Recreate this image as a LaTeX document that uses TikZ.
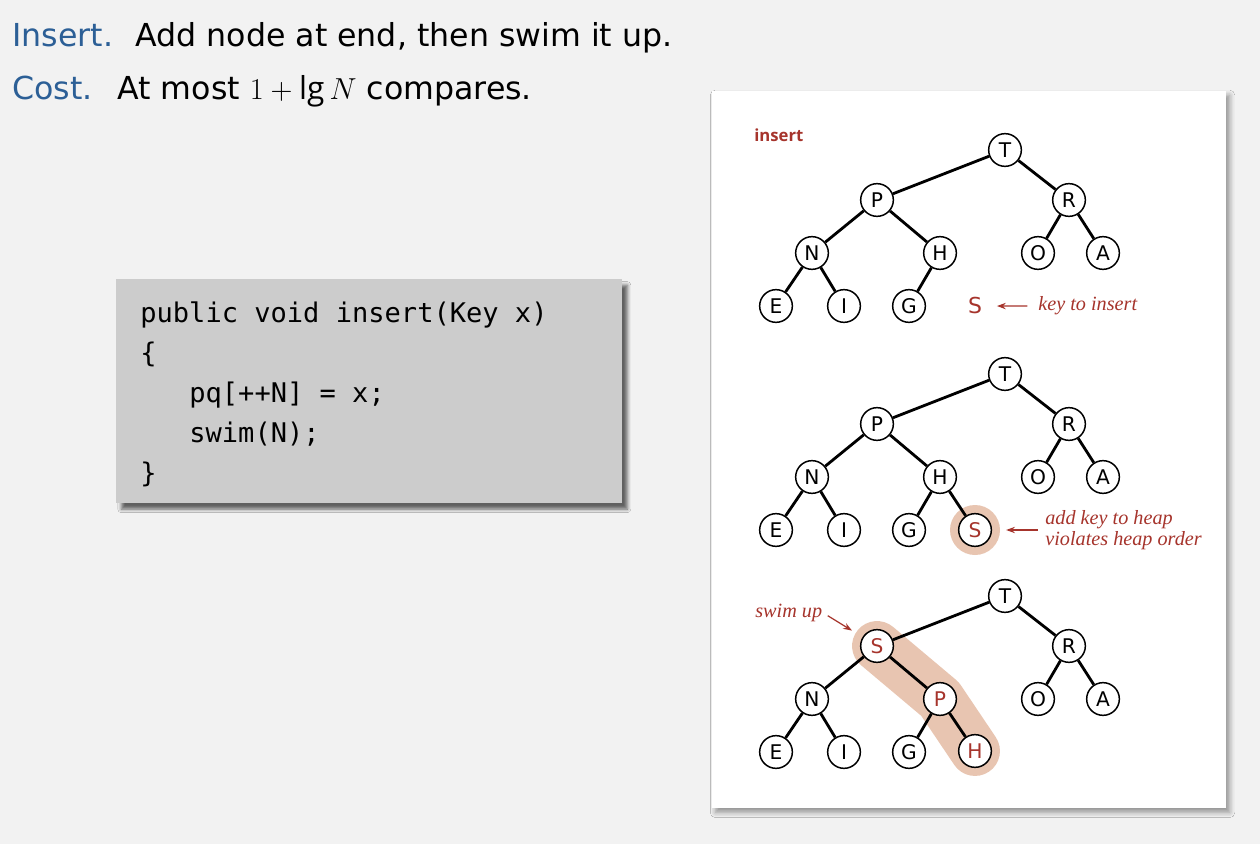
\documentclass[tikz,border=0pt]{standalone}
\usepackage{fontspec}
\setmainfont{Open Sans}
\newfontfamily\headfont{DejaVu Sans}
\newfontfamily\codefont{DejaVu Sans Mono}
\newfontfamily\notefont{Liberation Serif}
\usetikzlibrary{arrows.meta, backgrounds, shadows.blur}

\definecolor{slidegray}{RGB}{242,242,242}
\definecolor{codegray}{RGB}{204,204,204}
\definecolor{titleblue}{RGB}{44,95,150}
\definecolor{heapred}{RGB}{166,52,44}
\definecolor{swimglow}{RGB}{232,197,177}

\tikzset{
    key/.style = {shape = circle, draw, fill = white, line width = 0.85pt, minimum size = 18.6pt, inner sep = 0pt, font = \headfont\fontsize{11.5}{11.5}\selectfont},
    hot/.style = {key, text = heapred},
    link/.style = {line width = 1.6pt},
    note/.style = {text = heapred, inner sep = 0pt, font = \notefont\itshape\fontsize{11.5}{12}\selectfont},
    pointer/.style = {draw = heapred, line width = 0.7pt, -{Stealth[length = 5pt, width = 3.6pt]}},
    codeline/.style = {anchor = base west, inner sep = 0pt, font = \codefont\fontsize{15.4}{15.4}\selectfont},
    headline/.style = {anchor = base west, inner sep = 0pt, font = \headfont\fontsize{18}{18}\selectfont}
}

\begin{document}
\begin{tikzpicture}[x = 0.02cm, y = -0.02cm]
    \useasboundingbox (0,0) rectangle (1260,844);
    % heading
    \node[headline, text = titleblue] (insLabel) at (12,47) {Insert.};
    \node[headline] (insText) at (135,47) {Add node at end, then swim it up.};
    \node[headline, text = titleblue] (costLabel) at (12,100) {Cost.};
    \node[headline] (costText) at (117,100) {At most $1 + \lg N$ compares.};
    % code
    \node[codeline] (code1) at (140,322) {public void insert(Key x)};
    \node[codeline] (code2) at (140,362) {\{};
    \node[codeline] (code3) at (189,402) {pq[++N] = x;};
    \node[codeline] (code4) at (189,442) {swim(N);};
    \node[codeline] (code5) at (140,482) {\}};
    % trees
    \node[anchor = base west, inner sep = 0pt, text = heapred, font = \bfseries\fontsize{9.5}{9.5}\selectfont] (title) at (754,142) {insert};
    \foreach \tr/\dy/\lk/\mk/\sty in {a/0/P/H/key, b/224/P/H/key, c/446/S/P/hot} {
        \node[key] (\tr-T) at (1005,150+\dy) {T};
        \node[\sty] (\tr-L) at (877,200+\dy) {\lk};
        \node[key] (\tr-R) at (1069,200+\dy) {R};
        \node[key] (\tr-N) at (812,253+\dy) {N};
        \node[\sty] (\tr-M) at (940,253+\dy) {\mk};
        \node[key] (\tr-O) at (1038,253+\dy) {O};
        \node[key] (\tr-A) at (1103,253+\dy) {A};
        \node[key] (\tr-E) at (776,306+\dy) {E};
        \node[key] (\tr-I) at (844,306+\dy) {I};
        \node[key] (\tr-G) at (909,306+\dy) {G};
        \draw[link] (\tr-T) -- (\tr-L) (\tr-T) -- (\tr-R) (\tr-L) -- (\tr-N) (\tr-L) -- (\tr-M)
            (\tr-R) -- (\tr-O) (\tr-R) -- (\tr-A) (\tr-N) -- (\tr-E) (\tr-N) -- (\tr-I) (\tr-M) -- (\tr-G);
    }
    % new key
    \node[text = heapred, font = \headfont\fontsize{12.5}{12.5}\selectfont] (a-S) at (975,306) {S};
    \node[note, anchor = base west] (a-note) at (1038,311) {key to insert};
    \draw[pointer, shorten < = 6pt, shorten > = 5pt] (a-note) -- (a-S);
    \node[hot] (b-S) at (975,530) {S};
    \draw[link] (b-M) -- (b-S);
    \node[note, align = left, anchor = west] (b-note) at (1045,530) {add key to heap\\violates heap order};
    \draw[pointer, shorten < = 4pt, shorten > = 8pt] (b-note) -- (b-S);
    \node[hot] (c-H) at (975,751) {H};
    \draw[link] (c-M) -- (c-H);
    \node[note, anchor = base west] (c-note) at (755,617) {swim up};
    \draw[pointer, shorten < = 3.5pt, shorten > = 7pt] (c-note.east) -- (c-L);
    % boxes and glow
    \begin{scope}[on background layer]
        \fill[slidegray] (0,0) rectangle (1260,844);
        \fill[white, blur shadow = {shadow xshift = 2pt, shadow yshift = -2.5pt, shadow blur radius = 3pt}] (712,91) rectangle (1226,808);
        \fill[codegray, blur shadow = {shadow xshift = 3pt, shadow yshift = -3.5pt, shadow blur radius = 2pt, shadow opacity = 60}] (116,279) rectangle (622,503);
        \fill[swimglow] (b-S) circle (25);
        \draw[swimglow, line width = 28.4pt, line cap = round, line join = round] (c-L.center) -- (c-M.center) -- (c-H.center);
    \end{scope}
\end{tikzpicture}
\end{document}
